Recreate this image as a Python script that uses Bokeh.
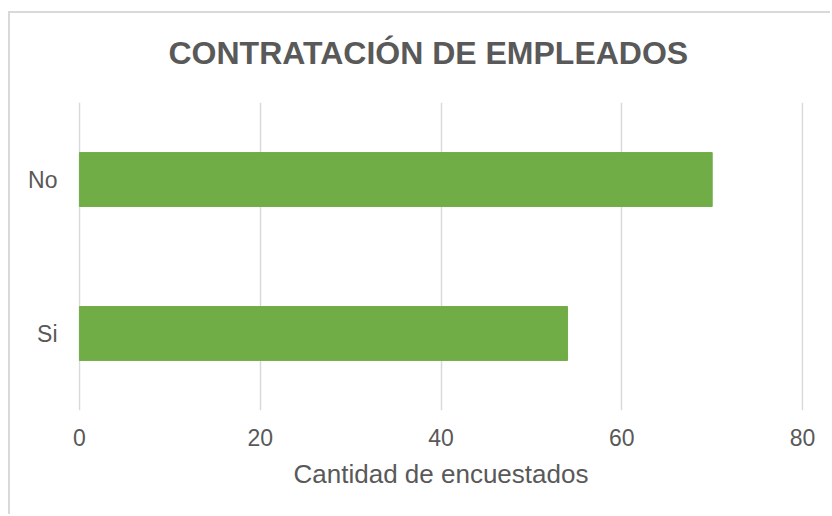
from bokeh.plotting import figure
from bokeh.models import Range1d, FactorRange, FixedTicker, Title
from bokeh.embed import file_html
from bokeh.resources import INLINE

categories = ["Si", "No"]
values = [54, 70]
x_ticks = [0, 20, 40, 60, 80]
title_text = "CONTRATACIÓN DE EMPLEADOS"
x_label = "Cantidad de encuestados"

FONT = "Liberation Sans"
GRAY = "#595959"
BORDER = "#D9D9D9"

p = figure(
    width=830, height=514,
    y_range=FactorRange(*categories, range_padding=0),
    x_range=Range1d(-0.1, 80.1),
    output_backend="svg", toolbar_location=None,
    min_border_left=78, min_border_right=27,
    min_border_top=102, min_border_bottom=104,
)
# chart-area border (top and left edges, the rest lies outside the crop)
p.styles = {
    "background": (
        f"linear-gradient({BORDER},{BORDER}) 8px 11px / 2px 1000px no-repeat, "
        f"linear-gradient({BORDER},{BORDER}) 8px 11px / 1000px 2px no-repeat, "
        "#FFFFFF"
    ),
}

t = Title(text=title_text, align="left", vertical_align="top", offset=90, standoff=60,
          text_font=FONT, text_font_size="32px", text_font_style="bold", text_color=GRAY)
p.add_layout(t, "above")

p.hbar(y=categories, right=values, left=0, height=0.35, color="#70AD47")

p.outline_line_color = None
p.background_fill_color = "white"
p.border_fill_color = None

p.xgrid.grid_line_color = "#D9D9D9"
p.xgrid.grid_line_width = 1.5
p.ygrid.grid_line_color = None

p.xaxis.ticker = FixedTicker(ticks=x_ticks)
p.xaxis.axis_label = x_label
for ax in (p.xaxis[0], p.yaxis[0]):
    ax.axis_line_color = None
    ax.major_tick_line_color = None
    ax.minor_tick_line_color = None
    ax.major_tick_out = 0
    ax.major_tick_in = 0
    ax.major_label_text_font = FONT
    ax.major_label_text_font_size = "23px"
    ax.major_label_text_color = GRAY
p.xaxis.major_label_standoff = 18
p.yaxis.major_label_standoff = 21
p.xaxis.axis_label_text_font = FONT
p.xaxis.axis_label_text_font_size = "26px"
p.xaxis.axis_label_text_font_style = "normal"
p.xaxis.axis_label_text_color = GRAY
p.xaxis.axis_label_standoff = 10

open("out.html", "w").write(file_html(p, INLINE))
